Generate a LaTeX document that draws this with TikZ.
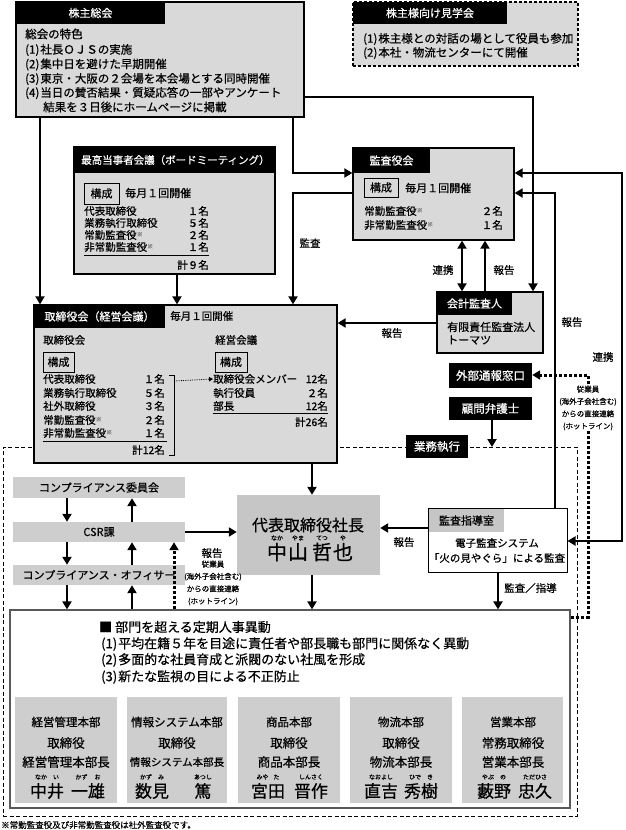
\documentclass[tikz,border=0pt]{standalone}
\usepackage{fontspec}
\setmainfont{Noto Sans CJK JP}[FakeBold=0.6]
\usetikzlibrary{arrows.meta,fit}
\definecolor{g1}{RGB}{217,217,217}
\definecolor{g2}{RGB}{206,206,206}
\definecolor{g3}{RGB}{198,198,198}
\newcommand\fsz[1]{\fontsize{#1}{#1}\selectfont}
\newcommand\kome{{\color{black!50}\raisebox{2.5pt}{\fsz{6}※}}}
\tikzset{
  box/.style={draw=black, line width=1.3pt, fill=g1, inner sep=0pt},
  hdr/.style={fill=black, inner sep=0pt},
  ht/.style={text=white, inner sep=0pt, font=\fsz{11}},
  blk/.style={fill=black, inner sep=0pt},
  bt/.style={text=white, inner sep=0pt, font=\fsz{11.5}},
  kosei/.style={draw=black, line width=0.8pt, fill=g1, inner sep=0pt},
  ct/.style={inner sep=0pt, font=\fsz{11}},
  tx/.style={inner sep=0pt, anchor=west, font=\fsz{11.5}},
  txr/.style={inner sep=0pt, anchor=east, font=\fsz{11.5}},
  rw/.style={inner sep=0pt, anchor=west, font=\fsz{10.5}},
  rwr/.style={inner sep=0pt, anchor=east, font=\fsz{10.5}},
  lbl/.style={inner sep=0pt, font=\fsz{10.5}},
  arr/.style={line width=2.6pt, -{Triangle[length=8pt,width=9pt]}},
  arrb/.style={line width=2.6pt, {Triangle[length=8pt,width=9pt]}-{Triangle[length=8pt,width=9pt]}},
  hot/.style={line width=3pt, dash pattern=on 3pt off 2pt},
  hota/.style={hot, -{Triangle[length=8pt,width=9pt]}},
  small/.style={inner sep=1pt, font=\fontsize{7.5}{12.3}\selectfont, align=center, fill=white},
  gbox/.style={fill=g2, inner sep=0pt},
  dbox/.style={fill=g2, inner sep=0pt},
  dn/.style={inner sep=0pt, font=\fsz{11.5}},
  dt/.style={inner sep=0pt, font=\fsz{12.5}},
  nm/.style={inner sep=0pt, font=\fsz{17}},
  rb/.style={inner sep=0pt, font=\fsz{6}},
}
\begin{document}
\begin{tikzpicture}[x=1pt,y=-1pt]
\useasboundingbox (0,0) rectangle (626,830);
\fill[white] (0,0) rectangle (626,830);
% lanes
\coordinate (L40) at (40,0);   \coordinate (L67) at (67,0);
\coordinate (L132) at (132,0); \coordinate (L174) at (174,0);
\coordinate (L177) at (177,0); \coordinate (L293) at (293,0);
\coordinate (L312) at (312,0); \coordinate (L462) at (462,0);
\coordinate (L485) at (485,0); \coordinate (L492) at (492,0);
\coordinate (L498) at (498,0); \coordinate (L533) at (533,0);
\coordinate (L555) at (555,0); \coordinate (L588) at (588,0);
\coordinate (L622) at (622,0);
\coordinate (R97) at (0,97);   \coordinate (R173) at (0,173);
\coordinate (R193) at (0,193); \coordinate (R323) at (0,323);
\coordinate (R375) at (0,375); \coordinate (R447) at (0,447);
\coordinate (R528) at (0,528); \coordinate (R532) at (0,532);
\coordinate (R541) at (0,541); \coordinate (R617) at (0,617);

% dashed execution region
\node[draw, line width=1pt, dash pattern=on 4pt off 2.5pt, inner sep=0pt, fit={(3,447)(577,816)}] (region) {};

% 株主総会
\node[box, fit={(16,2)(304,117)}] (kabu) {};
\node[hdr, fit={(16,2)(165,24)}] (kabuh) {};
\node[ht] (kabuht) at (kabuh.center) {株主総会};
\node[tx] (k0) at (25,34) {総会の特色};
\node[tx] (k1) at (25,50) {(1)\hspace{1pt}社長ＯＪＳの実施};
\node[tx] (k2) at (25,64.5) {(2)\hspace{1pt}集中日を避けた早期開催};
\node[tx] (k3) at (25,79) {(3)\hspace{1pt}東京・大阪の２会場を本会場とする同時開催};
\node[tx] (k4) at (25,93) {(4)\hspace{1pt}当日の賛否結果・質疑応答の一部やアンケート};
\node[tx] (k5) at (43,107) {結果を３日後にホームページに掲載};

% 株主様向け見学会
\node[box, line width=1.1pt, dash pattern=on 3pt off 2pt, fit={(353,2)(578,66)}] (kengaku) {};
\node[hdr, fit={(353,2)(507,24)}] (kengakuh) {};
\node[ht] (kengakuht) at (kengakuh.center) {株主様向け見学会};
\node[tx] (kg1) at (363,39) {(1)\hspace{1pt}株主様との対話の場として役員も参加};
\node[tx] (kg2) at (363,53) {(2)\hspace{1pt}本社・物流センターにて開催};

% 最高当事者会議
\node[box, fit={(74,147)(275,274)}] (board) {};
\node[hdr, fit={(74,147)(275,173)}] (boardh) {};
\node[tx, text=white, font=\fsz{10.5}] (boardt) at (81,160) {最高当事者会議（ボードミーティング）};
\node[kosei, fit={(84,183)(119,204)}] (bk) {};
\node[ct] (bkt) at (bk.center) {構成};
\node[tx, font=\fsz{11}] (bm) at (125,193) {毎月１回開催};
\node[rw] (b1) at (84,211) {代表取締役};      \node[rwr] (b1n) at (209,211) {１名};
\node[rw] (b2) at (84,223) {業務執行取締役};  \node[rwr] (b2n) at (209,223) {５名};
\node[rw] (b3) at (84,235) {常勤監査役\kome};  \node[rwr] (b3n) at (209,235) {２名};
\node[rw] (b4) at (84,247) {非常勤監査役\kome};\node[rwr] (b4n) at (209,247) {１名};
\draw[line width=0.7pt] (84,255) -- (209,255);
\node[rwr] (b5) at (209,265) {計９名};

% 監査役会
\node[box, fit={(353,148)(514,240)}] (kansa) {};
\node[hdr, fit={(353,148)(430,173)}] (kansah) {};
\node[ht] (kansaht) at (kansah.center) {監査役会};
\node[kosei, fit={(364,178)(398,197)}] (kk) {};
\node[ct] (kkt) at (kk.center) {構成};
\node[tx, font=\fsz{11}] (km) at (405,188) {毎月１回開催};
\node[rw] (ka1) at (364,211) {常勤監査役\kome};   \node[rwr] (ka1n) at (503,211) {２名};
\node[rw] (ka2) at (364,225) {非常勤監査役\kome}; \node[rwr] (ka2n) at (503,225) {１名};

% 会計監査人
\node[box, fit={(437,292)(543,353)}] (kaikei) {};
\node[hdr, fit={(437,292)(512,315)}] (kaikeih) {};
\node[ht] (kaikeiht) at (kaikeih.center) {会計監査人};
\node[tx, font=\fsz{11}] (kai1) at (447,327) {有限責任監査法人};
\node[tx, font=\fsz{11}] (kai2) at (447,340) {トーマツ};

% black boxes
\node[blk, fit={(449,363)(532,388)}] (gaibu) {};
\node[bt] (gaibut) at (gaibu.center) {外部通報窓口};
\node[blk, fit={(449,397)(532,420)}] (komon) {};
\node[bt] (komont) at (komon.center) {顧問弁護士};
\node[blk, fit={(406,435)(468,458)}] (gyomu) {};
\node[bt] (gyomut) at (gyomu.center) {業務執行};

% 取締役会（経営会議）
\node[box, fit={(34,305)(337,463)}] (tori) {};
\node[hdr, fit={(34,305)(165,328)}] (torih) {};
\node[ht] (toriht) at (torih.center) {取締役会（経営会議）};
\node[rw] (tm) at (170,316) {毎月１回開催};
\node[rw] (tl) at (43,340) {取締役会};
\node[rw] (tr) at (215,340) {経営会議};
\node[kosei, fit={(43,352)(74,372)}] (tk1) {};
\node[ct] (tk1t) at (tk1.center) {構成};
\node[kosei, fit={(215,352)(247,372)}] (tk2) {};
\node[ct] (tk2t) at (tk2.center) {構成};
\node[rw] (t1) at (43,379) {代表取締役};      \node[rwr] (t1n) at (165,379) {１名};
\node[rw] (t2) at (43,393) {業務執行取締役};  \node[rwr] (t2n) at (165,393) {５名};
\node[rw] (t3) at (43,406) {社外取締役};      \node[rwr] (t3n) at (165,406) {３名};
\node[rw] (t4) at (43,420) {常勤監査役\kome};  \node[rwr] (t4n) at (165,420) {２名};
\node[rw] (t5) at (43,433) {非常勤監査役\kome};\node[rwr] (t5n) at (165,433) {１名};
\draw[line width=0.7pt] (43,441) -- (167,441);
\node[rwr] (t6) at (165,450) {計12名};
\draw[line width=0.7pt] (169,375) -- (174,375) -- (174,455) -- (169,455);
\node[rw] (u1) at (213,379) {取締役会メンバー}; \node[rwr] (u1n) at (328,379) {12名};
\node[rw] (u2) at (213,393) {執行役員};         \node[rwr] (u2n) at (328,393) {２名};
\node[rw] (u3) at (213,406) {部長};             \node[rwr] (u3n) at (328,406) {12名};
\draw[line width=0.7pt] (213,413) -- (328,413);
\node[rwr] (u4) at (328,422) {計26名};
\draw[line width=0.8pt, densely dotted, -{Triangle[length=4pt,width=4.5pt]}] (174,381) -- (u1.west);

% 代表取締役社長
\node[fill=g3, inner sep=0pt, fit={(237,495)(380,575)}] (pres) {};
\node[inner sep=0pt, font=\fsz{16}] (presT) at (308,525) {代表取締役社長};
\node[inner sep=0pt, font=\fsz{20}] (p1) at (277,552) {中};
\node[inner sep=0pt, font=\fsz{20}] (p2) at (298,552) {山};
\node[inner sep=0pt, font=\fsz{20}] (p3) at (322,552) {哲};
\node[inner sep=0pt, font=\fsz{20}] (p4) at (343,552) {也};
\node[rb] (p1r) at (277,538) {なか};
\node[rb] (p2r) at (298,538) {やま};
\node[rb] (p3r) at (322,538) {てつ};
\node[rb] (p4r) at (343,538) {や};

% compliance
\node[gbox, fit={(13,477)(185,498)}] (cc) {};
\node[ct] (cct) at (cc.center) {コンプライアンス委員会};
\node[gbox, fit={(13,522)(185,542)}] (csr) {};
\node[ct] (csrt) at (csr.center) {CSR課};
\node[gbox, fit={(13,565)(185,585)}] (off) {};
\node[ct] (offt) at (off.center) {コンプライアンス・オフィサー};

% 監査指導室
\node[draw=black, line width=1pt, fill=white, inner sep=0pt, fit={(428,508)(567,572)}] (shido) {};
\node[fill=g3, inner sep=0pt, fit={(429,509)(504,532)}] (shidoh) {};
\node[ct] (shidoht) at (shidoh.center) {監査指導室};
\node[inner sep=0pt, font=\fsz{10.5}] (sd1) at (497,543) {電子監査システム};
\node[inner sep=0pt, font=\fsz{10.5}] (sd2) at (497,558) {「火の見やぐら」による監査};

% bottom box
\node[draw=black!65, line width=1.2pt, fill=white, inner sep=0pt, fit={(10,610)(570,808)}] (bottom) {};
\node[tx, font=\fsz{13}] (bt0) at (99,627) {■\hspace{3pt}部門を超える定期人事異動};
\node[tx, font=\fsz{13}] (bt1) at (101,644) {(1)\hspace{1pt}平均在籍５年を目途に責任者や部長職も部門に関係なく異動};
\node[tx, font=\fsz{13}] (bt2) at (101,660) {(2)\hspace{1pt}多面的な社員育成と派閥のない社風を形成};
\node[tx, font=\fsz{13}] (bt3) at (101,677) {(3)\hspace{1pt}新たな監視の目による不正防止};

% departments
\node[dbox, fit={(15,697)(117,803)}] (d1) {};
\node[dn] (d1a) at (66,722) {経営管理本部};
\node[dt] (d1b) at (66,743) {取締役};
\node[dt] (d1c) at (66,762) {経営管理本部長};
\node[nm] (d1d) at (47,791) {中井};
\node[nm] (d1e) at (88,791) {一雄};
\node[rb] (d1f) at (47,777) {なか\hspace{6pt}い};
\node[rb] (d1g) at (88,777) {かず\hspace{7pt}お};

\node[dbox, fit={(127,697)(227,803)}] (d2) {};
\node[dn] (d2a) at (177,722) {情報システム本部};
\node[dt] (d2b) at (177,743) {取締役};
\node[dt, font=\fsz{10.5}] (d2c) at (177,762) {情報システム本部長};
\node[nm] (d2d) at (152,791) {数見};
\node[nm] (d2e) at (203,791) {篤};
\node[rb] (d2f) at (152,777) {かず\hspace{6pt}み};
\node[rb] (d2g) at (203,777) {あつし};

\node[dbox, fit={(238,697)(340,803)}] (d3) {};
\node[dn] (d3a) at (289,722) {商品本部};
\node[dt] (d3b) at (289,743) {取締役};
\node[dt] (d3c) at (289,762) {商品本部長};
\node[nm] (d3d) at (268,791) {宮田};
\node[nm] (d3e) at (311,791) {晋作};
\node[rb] (d3f) at (268,777) {みや\hspace{5pt}た};
\node[rb] (d3g) at (311,777) {しんさく};

\node[dbox, fit={(350,697)(452,803)}] (d4) {};
\node[dn] (d4a) at (401,722) {物流本部};
\node[dt] (d4b) at (401,743) {取締役};
\node[dt] (d4c) at (401,762) {物流本部長};
\node[nm] (d4d) at (381,791) {直吉};
\node[nm] (d4e) at (421,791) {秀樹};
\node[rb] (d4f) at (381,777) {なおよし};
\node[rb] (d4g) at (421,777) {ひで\hspace{6pt}き};

\node[dbox, fit={(462,697)(563,803)}] (d5) {};
\node[dn] (d5a) at (513,722) {営業本部};
\node[dt] (d5b) at (513,743) {常務取締役};
\node[dt] (d5c) at (513,762) {営業本部長};
\node[nm] (d5d) at (494,791) {藪野};
\node[nm] (d5e) at (535,791) {忠久};
\node[rb] (d5f) at (494,777) {やぶ\hspace{6pt}の};
\node[rb] (d5g) at (535,777) {ただひさ};

% connectors
\draw[arr] (kabu.south -| L40) -- (tori.north -| L40);
\draw[arr] (kabu.south -| L293) -- (L293 |- R173) -- (kansa.west |- R173);
\draw[arr] (kabu.east |- R97) -- (L533 |- R97) -- (kaikei.north -| L533);
\draw[arr] (kansa.west |- R193) -- (L293 |- R193) -- (tori.north -| L293);
\draw[arr] (board.south -| L177) -- (tori.north -| L177);
\draw[arrb] (kansa.south -| L462) -- (kaikei.north -| L462);
\draw[arr] (kaikei.north -| L485) -- (kansa.south -| L485);
\draw[arr] (kaikei.west |- R323) -- (tori.east |- R323);
\draw[arr] (shido.north -| L555) -- (L555 |- R193) -- (kansa.east |- R193);
\draw[arrb] (kansa.east |- R173) -- (L622 |- R173) -- (L622 |- R541) -- (shido.east |- R541);
\draw[hota] (bottom.east |- R617) -- (L588 |- R617) -- (L588 |- R375) -- (gaibu.east |- R375);
\draw[arr] (komon.south -| L492) -- (L492 |- R447);
\draw[arr] (tori.south -| L312) -- (pres.north -| L312);
\draw[arr] (pres.south -| L312) -- (bottom.north -| L312);
\draw[arr] (cc.south -| L67) -- (csr.north -| L67);
\draw[arr] (csr.north -| L132) -- (cc.south -| L132);
\draw[arr] (csr.south -| L67) -- (off.north -| L67);
\draw[arr] (off.north -| L132) -- (csr.south -| L132);
\draw[arr] (off.south -| L67) -- (bottom.north -| L67);
\draw[arr] (bottom.north -| L132) -- (off.south -| L132);
\draw[arr] (csr.east |- R532) -- (pres.west |- R532);
\draw[hota] (bottom.north -| L174) -- (csr.south -| L174);
\draw[arr] (shido.west |- R528) -- (pres.east |- R528);
\draw[arr] (shido.south -| L498) -- (bottom.north -| L498);

% labels
\node[lbl] (la1) at (310,243) {監査};
\node[lbl] (la2) at (443,270) {連携};
\node[lbl] (la3) at (504,270) {報告};
\node[lbl] (la4) at (392,333) {報告};
\node[lbl] (la5) at (572,322) {報告};
\node[lbl] (la6) at (603,357) {連携};
\node[lbl] (la7) at (212,553) {報告};
\node[lbl] (la8) at (404,542) {報告};
\node[lbl, anchor=west] (la9) at (504,588) {監査／指導};
\node[small] (hl1) at (588,408) {従業員\\(海外子会社含む)\\からの直接連絡\\(ホットライン)};
\node[small, fill=none] (hl2) at (213,583) {従業員\\(海外子会社含む)\\からの直接連絡\\(ホットライン)};

% footnote
\node[anchor=west, inner sep=0pt, font=\fsz{8.5}] (fn) at (1,825) {※常勤監査役及び非常勤監査役は社外監査役です。};
\end{tikzpicture}
\end{document}
